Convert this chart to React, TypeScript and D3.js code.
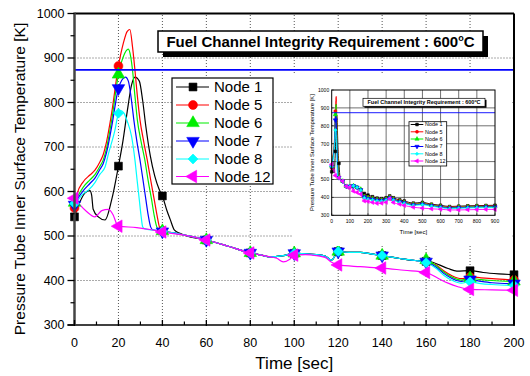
import React from 'react';
import * as d3 from 'd3';

// ---------- DATA ----------
const xTicks = [0, 20, 40, 60, 80, 100, 120, 140, 160, 180, 200];
const yTicks = [300, 400, 500, 600, 700, 800, 900, 1000];
const insetXTicks = [0, 100, 200, 300, 400, 500, 600, 700, 800, 900];
const insetYTicks = [300, 400, 500, 600, 700, 800, 900, 1000];
const limitK = 873.15;
const titleText = 'Fuel Channel Integrity Requirement : 600';
const xLabel = 'Time [sec]';
const yLabel = 'Pressure Tube Inner Surface Temperature [K]';

const seriesNames = ['Node 1', 'Node 5', 'Node 6', 'Node 7', 'Node 8', 'Node 12'];
const seriesColors = ['#000000', '#ff0000', '#00ee00', '#0000ff', '#00ffff', '#ff00ff'];
const seriesMarkers = ['square', 'circle', 'triUp', 'triDown', 'diamond', 'triLeft'];

// converged segment shared by nodes 1,5,6,7,8
const commonMid: [number, number][] = [
  [50, 502], [60, 491], [70, 477], [80, 462], [85, 457], [89, 453], [95, 456], [100, 461],
  [105, 460], [110, 458], [114, 455], [117, 446], [120, 465], [125, 463], [130, 463],
  [135, 460], [140, 456], [145, 452], [150, 448], [155, 445],
];

const node1Early: [number, number][] = [
  [0, 543], [2.5, 577], [4.8, 597], [7, 602], [7.8, 592], [8.5, 560], [10.8, 543], [13.9, 536],
  [16.9, 581], [20, 657], [22, 712], [24, 780], [26, 840], [27.5, 857], [29.5, 848], [31, 805],
  [32.5, 745], [34.5, 680], [36.5, 635], [38.5, 605], [40, 590], [42, 558], [43.5, 538],
  [45.5, 513], [48, 506],
];
const node1Late: [number, number][] = [
  [160, 443], [163, 441], [166, 435], [170, 427], [174, 421], [180, 422], [186, 418], [193, 415], [200, 413],
];
const node5Early: [number, number][] = [
  [0, 563], [1, 592], [4, 622], [7, 637], [9.3, 648], [11.6, 667], [13, 682], [14.6, 712],
  [16.9, 776], [20, 882], [22.2, 933], [24, 960], [25.2, 964], [26.4, 925], [27.5, 873],
  [28.5, 820], [29.8, 761], [31.5, 712], [33.1, 671], [34.7, 625], [36.3, 581], [37.5, 548],
  [38.6, 521], [39.3, 514], [40, 512], [45, 507],
];
const node5Late: [number, number][] = [
  [160, 443], [164.6, 435], [168, 422], [172, 410], [176, 404], [180, 408], [185, 406], [190, 404], [200, 401],
];
const node6Early: [number, number][] = [
  [0, 575], [1, 585], [4, 610], [7, 626], [9.3, 638], [11.6, 657], [13, 670], [14.6, 698],
  [16.9, 760], [20, 863], [22.2, 903], [24.5, 920], [25.5, 905], [26.4, 873], [27.5, 815],
  [28.6, 761], [30.3, 712], [32, 671], [33.5, 625], [35.1, 581], [36.3, 545], [37.4, 521],
  [38.2, 514], [40, 511], [45, 507],
];
const node6Late: [number, number][] = [
  [160, 446], [164.6, 433], [168, 419], [172, 407], [176, 401], [180, 405], [185, 402], [190, 400], [200, 398],
];
const node7Early: [number, number][] = [
  [0, 570], [1, 580], [4, 602], [7, 618], [9.3, 630], [11.6, 650], [13, 662], [14.6, 688],
  [16.9, 745], [20, 832], [21.5, 850], [23.2, 857], [24.5, 848], [25.8, 810], [27, 761],
  [28.4, 712], [29.8, 671], [31.2, 625], [32.5, 581], [33.6, 545], [34.6, 521], [35.6, 514],
  [38, 512], [40, 510], [45, 507],
];
const node7Late: [number, number][] = [
  [160, 442], [164.6, 430], [168, 416], [172, 404], [176, 398], [180, 402], [185, 398], [190, 395], [200, 393],
];
const node8Early: [number, number][] = [
  [0, 573], [1, 577], [3.3, 592], [6.3, 603], [9.3, 620], [11.6, 639], [13.9, 655], [15.4, 684],
  [18.4, 738], [20, 776], [21, 782], [22.5, 776], [24, 758], [26, 723], [27.5, 671], [28.5, 625],
  [29.5, 581], [30.3, 545], [31, 521], [32, 516], [36, 513], [40, 510], [45, 507],
];
const node8Late: [number, number][] = [
  [160, 440], [164.6, 427], [168, 412], [172, 400], [176, 394], [180, 397], [185, 393], [190, 391], [200, 389],
];
const node12Main: [number, number][] = [
  [0, 585], [2.5, 570], [5.5, 555], [9.3, 543], [12.4, 557], [15.4, 560], [17.6, 547], [19.2, 527],
  [20, 522], [28.3, 519], [35, 514], [40, 509], [50, 502], [60, 491], [70, 477], [80, 462],
  [85, 457], [89, 453], [92, 450], [95, 442], [98, 448], [100, 457], [105, 458], [110, 456],
  [114, 452], [117, 441], [120, 435], [130, 431], [140, 428], [150, 423], [160, 418], [165.4, 405],
  [170, 394], [174.5, 386], [180, 380], [190, 379], [200, 378],
];

// inset extension beyond 200 s
const extTimes = [225, 250, 275, 300, 320, 340, 375, 400, 450, 500, 550, 600, 650, 700, 750, 800, 850, 900];
const node1Ext = [404, 396, 393, 398, 408, 398, 386, 380, 368, 372, 362, 356, 349, 351, 353, 354, 355, 356];
const node5Ext = [397, 390, 388, 393, 403, 393, 381, 375, 364, 368, 359, 352, 346, 348, 350, 351, 352, 352];
const node6Ext = [394, 387, 385, 390, 400, 390, 378, 372, 361, 365, 356, 349, 343, 345, 347, 348, 349, 349];
const node7Ext = [390, 384, 382, 387, 397, 387, 375, 369, 358, 362, 353, 346, 340, 342, 344, 345, 346, 346];
const node8Ext = [386, 381, 379, 384, 394, 384, 372, 366, 355, 359, 350, 343, 337, 339, 341, 342, 343, 343];
const node12Ext = [372, 367, 368, 373, 392, 372, 362, 355, 345, 340, 336, 334, 330, 330, 331, 332, 333, 333];

const mainSeries: [number, number][][] = [
  [...node1Early, ...commonMid, ...node1Late],
  [...node5Early, ...commonMid, ...node5Late],
  [...node6Early, ...commonMid, ...node6Late],
  [...node7Early, ...commonMid, ...node7Late],
  [...node8Early, ...commonMid, ...node8Late],
  node12Main,
];
const extSeries = [node1Ext, node5Ext, node6Ext, node7Ext, node8Ext, node12Ext];

// ---------- HELPERS ----------
const FONT = 'Arial, "Liberation Sans", Helvetica, sans-serif';

function markerPath(kind: string, size: number): { d: string; rot: number } {
  switch (kind) {
    case 'square':
      return { d: d3.symbol(d3.symbolSquare, size)()!, rot: 0 };
    case 'circle':
      return { d: d3.symbol(d3.symbolCircle, size)()!, rot: 0 };
    case 'triUp':
      return { d: d3.symbol(d3.symbolTriangle, size * 1.1)()!, rot: 0 };
    case 'triDown':
      return { d: d3.symbol(d3.symbolTriangle, size * 1.1)()!, rot: 180 };
    case 'diamond':
      return { d: d3.symbol(d3.symbolSquare, size * 0.8)()!, rot: 45 };
    default:
      return { d: d3.symbol(d3.symbolTriangle, size * 1.1)()!, rot: -90 };
  }
}

function Marker({ kind, x, y, size, color }: { kind: string; x: number; y: number; size: number; color: string }) {
  const m = markerPath(kind, size);
  return (
    <path
      d={m.d}
      transform={`translate(${x},${y}) rotate(${m.rot})`}
      fill={color}
      stroke={color}
      strokeWidth={0.6}
    />
  );
}

export default function App() {
  // main plot scales
  const x = d3.scaleLinear().domain([0, 200]).range([74.5, 514]);
  const y = d3.scaleLinear().domain([300, 1000]).range([325, 13.5]);
  // inset scales
  const ix = d3.scaleLinear().domain([0, 900]).range([331.7, 495]);
  const iy = d3.scaleLinear().domain([300, 1000]).range([215.3, 90]);

  const line = d3
    .line<[number, number]>()
    .x((d) => x(d[0]))
    .y((d) => y(d[1]))
    .curve(d3.curveMonotoneX);
  const iline = d3
    .line<[number, number]>()
    .x((d) => ix(d[0]))
    .y((d) => iy(d[1]))
    .curve(d3.curveMonotoneX);

  const insetSeries = mainSeries.map((s, i) => [
    ...s,
    ...extTimes.map((t, j) => [t, extSeries[i][j]] as [number, number]),
  ]);

  const minorY = d3.range(350, 1000, 100);
  const minorX = d3.range(10, 200, 20);

  const [x0, x1] = x.range();
  const [yb, yt] = y.range();

  const legendY = [87, 105, 123, 141, 159, 176.5];
  const iLegendY = [124.5, 131.8, 139, 146.5, 153.8, 161];

  return (
    <svg
      width={530}
      height={376}
      viewBox="0 0 530 376"
      style={{ position: 'absolute', left: 0, top: 0, background: '#fff' }}
      fontFamily={FONT}
    >
      <rect x={0} y={0} width={530} height={376} fill="#fff" />

      {/* grid */}
      <g stroke="#555" strokeWidth={1} strokeDasharray="1,2">
        {xTicks.slice(1, -1).map((t) => (
          <line key={'gx' + t} x1={x(t)} x2={x(t)} y1={yb} y2={yt} />
        ))}
        {yTicks.slice(1, -1).map((t) => (
          <line key={'gy' + t} x1={x0} x2={x1} y1={y(t)} y2={y(t)} />
        ))}
      </g>

      {/* data lines */}
      {mainSeries.map((s, i) => (
        <path key={'l' + i} d={line(s)!} fill="none" stroke={seriesColors[i]} strokeWidth={1.2} />
      ))}
      {/* markers every 20 s */}
      {mainSeries.map((s, i) =>
        s
          .filter((p) => p[0] % 20 === 0)
          .map((p) => (
            <Marker key={'m' + i + '-' + p[0]} kind={seriesMarkers[i]} x={x(p[0])} y={y(p[1])} size={62} color={seriesColors[i]} />
          ))
      )}

      {/* limit line */}
      <line x1={x0} x2={x1} y1={y(limitK)} y2={y(limitK)} stroke="#0000ff" strokeWidth={1.8} />

      {/* title box */}
      <rect x={163} y={36} width={325} height={21} fill="#000" />
      <rect x={158} y={31} width={325} height={21} fill="#fff" stroke="#000" strokeWidth={1.5} />
      <text x={320.5} y={47} textAnchor="middle" fontSize={15} fontWeight="bold" fill="#000">
        {titleText}
        <tspan fontSize={9} dy={-6}>o</tspan>
        <tspan dy={6}>C</tspan>
      </text>

      {/* legend */}
      <rect x={172} y={78} width={101} height={106} fill="#fff" stroke="#000" strokeWidth={1.2} />
      {seriesNames.map((n, i) => (
        <g key={'lg' + i}>
          <line x1={176} x2={209} y1={legendY[i]} y2={legendY[i]} stroke={seriesColors[i]} strokeWidth={1.2} />
          <Marker kind={seriesMarkers[i]} x={193} y={legendY[i]} size={62} color={seriesColors[i]} />
          <text x={214} y={legendY[i] + 5.3} fontSize={15} fill="#000">
            {n}
          </text>
        </g>
      ))}

      {/* inset */}
      <rect x={292} y={75} width={219} height={171} fill="#fff" />
      <g stroke="#333" strokeWidth={0.7}>
        {insetXTicks.slice(1, -1).map((t) => (
          <line key={'igx' + t} x1={ix(t)} x2={ix(t)} y1={iy(300)} y2={iy(1000)} />
        ))}
        {insetYTicks.slice(1, -1).map((t) => (
          <line key={'igy' + t} x1={ix(0)} x2={ix(900)} y1={iy(t)} y2={iy(t)} />
        ))}
      </g>
      {insetSeries.map((s, i) => (
        <path key={'il' + i} d={iline(s)!} fill="none" stroke={seriesColors[i]} strokeWidth={0.9} />
      ))}
      {insetSeries.map((s, i) =>
        s
          .filter((p) => p[0] % 20 === 0 || p[0] > 200)
          .map((p, k) => (
            <Marker key={'im' + i + '-' + k} kind={seriesMarkers[i]} x={ix(p[0])} y={iy(p[1])} size={7} color={seriesColors[i]} />
          ))
      )}
      <line x1={ix(0)} x2={ix(900)} y1={iy(limitK)} y2={iy(limitK)} stroke="#0000ff" strokeWidth={0.9} />
      <rect x={ix(0)} y={iy(1000)} width={ix(900) - ix(0)} height={iy(300) - iy(1000)} fill="none" stroke="#000" strokeWidth={1} />
      {/* inset ticks & labels */}
      {insetXTicks.map((t) => (
        <g key={'ixt' + t}>
          <line x1={ix(t)} x2={ix(t)} y1={iy(300)} y2={iy(300) - 2} stroke="#000" strokeWidth={0.6} />
          <text x={ix(t)} y={iy(300) + 8} fontSize={5} textAnchor="middle" fill="#000">{t}</text>
        </g>
      ))}
      {insetYTicks.map((t) => (
        <g key={'iyt' + t}>
          <line x1={ix(0)} x2={ix(0) + 2} y1={iy(t)} y2={iy(t)} stroke="#000" strokeWidth={0.6} />
          <text x={ix(0) - 2.5} y={iy(t) + 1.8} fontSize={5} textAnchor="end" fill="#000">{t}</text>
        </g>
      ))}
      <text x={(ix(0) + ix(900)) / 2} y={234} fontSize={6} textAnchor="middle" fill="#000">{xLabel}</text>
      <text
        transform={`translate(313.5,${(iy(300) + iy(1000)) / 2}) rotate(-90)`}
        fontSize={5.8}
        textAnchor="middle"
        fill="#000"
      >
        {yLabel}
      </text>
      {/* inset title */}
      <rect x={364.5} y={99.8} width={122} height={8} fill="#000" />
      <rect x={363} y={98.3} width={122} height={8} fill="#fff" stroke="#000" strokeWidth={0.7} />
      <text x={424} y={104.4} fontSize={5.5} fontWeight="bold" textAnchor="middle" fill="#000">
        {titleText}
        <tspan fontSize={3.5} dy={-2}>o</tspan>
        <tspan dy={2}>C</tspan>
      </text>
      {/* inset legend */}
      <rect x={409} y={121.7} width={37.7} height={44.3} fill="#fff" stroke="#000" strokeWidth={0.8} />
      {seriesNames.map((n, i) => (
        <g key={'ilg' + i}>
          <line x1={410.7} x2={423.3} y1={iLegendY[i]} y2={iLegendY[i]} stroke={seriesColors[i]} strokeWidth={1} />
          <Marker kind={seriesMarkers[i]} x={417} y={iLegendY[i]} size={7} color={seriesColors[i]} />
          <text x={425} y={iLegendY[i] + 1.9} fontSize={5.4} fill="#000">{n}</text>
        </g>
      ))}

      {/* main axes frame */}
      <line x1={x1} x2={x1} y1={yt} y2={yb} stroke="#000" strokeWidth={2} />
      <line x1={x0} x2={x1} y1={yt} y2={yt} stroke="#000" strokeWidth={2} />
      <line x1={x0 - 7} x2={x1 + 1} y1={yb} y2={yb} stroke="#000" strokeWidth={1.6} />
      <line x1={x0} x2={x0} y1={yt - 1} y2={yb} stroke="#444" strokeWidth={2.5} />

      {/* y ticks */}
      {yTicks.map((t) => (
        <g key={'yt' + t}>
          <line x1={x0 - 7} x2={x0} y1={y(t)} y2={y(t)} stroke="#000" strokeWidth={1.3} />
          <text x={x0 - 10} y={y(t) + 4.3} fontSize={12.5} textAnchor="end" fill="#000">{t}</text>
        </g>
      ))}
      {minorY.map((t) => (
        <line key={'ymt' + t} x1={x0 - 4} x2={x0} y1={y(t)} y2={y(t)} stroke="#000" strokeWidth={1.2} />
      ))}
      {/* x ticks */}
      {xTicks.map((t) => (
        <g key={'xt' + t}>
          <line x1={x(t)} x2={x(t)} y1={yb - 5} y2={yb + 1} stroke="#000" strokeWidth={1.3} />
          <text x={x(t)} y={yb + 22} fontSize={12.5} textAnchor="middle" fill="#000">{t}</text>
        </g>
      ))}
      {minorX.map((t) => (
        <line key={'xmt' + t} x1={x(t)} x2={x(t)} y1={yb - 3.5} y2={yb} stroke="#000" strokeWidth={1.2} />
      ))}

      {/* axis titles */}
      <text x={(x0 + x1) / 2} y={369} fontSize={17} textAnchor="middle" fill="#000">{xLabel}</text>
      <text transform={`translate(25,179) rotate(-90)`} fontSize={15.5} textAnchor="middle" fill="#000">
        {yLabel}
      </text>
    </svg>
  );
}
